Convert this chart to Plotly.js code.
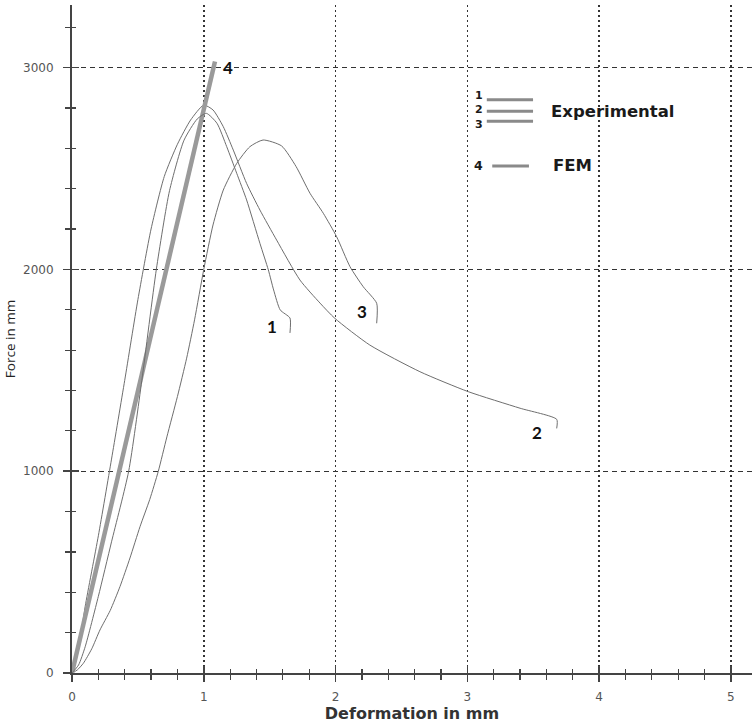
<!DOCTYPE html>
<html>
<head>
<meta charset="utf-8">
<script src="https://cdn.plot.ly/plotly-3.0.1.min.js"></script>
<style>html,body{margin:0;padding:0;background:#fff;}#chart{width:756px;height:725px;}</style>
</head>
<body>
<div id="chart"></div>
<script>
// ---- data ----
const femX = [0, 1.085];
const femY = [0, 3030];

const exp1X = [0, 0.05, 0.1, 0.2, 0.3, 0.43, 0.53, 0.64, 0.74, 0.85, 0.95, 1.02, 1.1, 1.174, 1.25, 1.325, 1.426, 1.49, 1.53, 1.58, 1.654, 1.654];
const exp1Y = [0, 40, 130, 380, 650, 1000, 1450, 2000, 2390, 2640, 2745, 2773, 2724, 2608, 2476, 2344, 2129, 1997, 1898, 1799, 1759, 1685];

const exp2X = [0, 0.05, 0.1, 0.2, 0.3, 0.4, 0.5, 0.6, 0.7, 0.8, 0.9, 1.0, 1.07, 1.148, 1.224, 1.325, 1.426, 1.553, 1.73, 1.882, 1.995, 2.26, 2.64, 3.007, 3.4, 3.678, 3.678];
const exp2Y = [0, 120, 330, 680, 1060, 1450, 1850, 2200, 2460, 2620, 2740, 2814, 2790, 2707, 2591, 2426, 2294, 2145, 1947, 1833, 1757, 1625, 1493, 1394, 1312, 1257, 1212];

const exp3X = [0, 0.04, 0.086, 0.15, 0.212, 0.29, 0.364, 0.44, 0.516, 0.59, 0.655, 0.72, 0.8, 0.87, 0.93, 1.0, 1.07, 1.148, 1.25, 1.35, 1.45, 1.59, 1.7, 1.806, 1.907, 2.008, 2.11, 2.21, 2.312, 2.312];
const exp3Y = [0, 15, 48, 120, 213, 310, 428, 570, 725, 860, 1000, 1170, 1370, 1560, 1750, 2000, 2220, 2393, 2525, 2608, 2641, 2612, 2510, 2377, 2278, 2162, 2013, 1914, 1832, 1733];

const curveLabels = ['1', '2', '3', '4'];
const curveLabelX = [1.517, 3.528, 2.2, 1.184];
const curveLabelY = [1719, 1194, 1789, 2998];

const xTickVals = [0, 1, 2, 3, 4, 5];
const yTickVals = [0, 1000, 2000, 3000];

// ---- styles ----
const thin = {color: '#6e6e6e', width: 1, shape: 'spline', smoothing: 0.6};
const axisCol = '#444';
const tickFont = {family: 'DejaVu Sans', size: 12, color: '#555'};

const traces = [
  {x: exp2X, y: exp2Y, mode: 'lines', line: thin, hoverinfo: 'skip', showlegend: false},
  {x: exp3X, y: exp3Y, mode: 'lines', line: thin, hoverinfo: 'skip', showlegend: false},
  {x: femX, y: femY, mode: 'lines', line: {color: '#9a9a9a', width: 4.5}, hoverinfo: 'skip', showlegend: false},
  {x: exp1X, y: exp1Y, mode: 'lines', line: thin, hoverinfo: 'skip', showlegend: false},
  // invisible carrier so the overlay axes (crossing ticks) get drawn
  {x: femX, y: femY, xaxis: 'x2', yaxis: 'y2', mode: 'lines', line: {width: 0}, opacity: 0, hoverinfo: 'skip', showlegend: false}
];

const xr = [0, 5.16];
const yr = [0, 3310];

const annotations = curveLabels.map((t, i) => ({
  x: curveLabelX[i], y: curveLabelY[i], xref: 'x', yref: 'y', text: t, showarrow: false,
  font: {family: 'Lato, Open Sans, sans-serif', size: 17, color: '#111', weight: 'bold'},
  xanchor: 'center', yanchor: 'middle'
}));

annotations.push({x: 0.5985, y: 0.843, xref: 'paper', yref: 'paper', text: '1<br>2<br>3',
  showarrow: false, font: {family: 'DejaVu Sans', size: 11, color: '#1a1a1a', weight: 'bold'},
  xanchor: 'center', yanchor: 'middle', borderpad: 0});
annotations.push({x: 0.5985, y: 0.759, xref: 'paper', yref: 'paper', text: '4', showarrow: false,
  font: {family: 'DejaVu Sans', size: 12.5, color: '#1a1a1a', weight: 'bold'}, xanchor: 'center', yanchor: 'middle'});
annotations.push({x: 0.701, y: 0.841, xref: 'paper', yref: 'paper', text: 'Experimental', showarrow: false,
  font: {family: 'DejaVu Sans', size: 16.5, color: '#1a1a1a', weight: 'bold'}, xanchor: 'left', yanchor: 'middle'});
annotations.push({x: 0.704, y: 0.759, xref: 'paper', yref: 'paper', text: 'FEM', showarrow: false,
  font: {family: 'DejaVu Sans', size: 16.5, color: '#1a1a1a', weight: 'bold'}, xanchor: 'left', yanchor: 'middle'});

const legLine = {color: '#8a8a8a', width: 3};
const shapes = [
  {type: 'line', xref: 'paper', yref: 'paper', x0: 0.610, x1: 0.678, y0: 0.858, y1: 0.858, line: legLine},
  {type: 'line', xref: 'paper', yref: 'paper', x0: 0.610, x1: 0.678, y0: 0.841, y1: 0.841, line: legLine},
  {type: 'line', xref: 'paper', yref: 'paper', x0: 0.610, x1: 0.678, y0: 0.826, y1: 0.826, line: legLine},
  {type: 'line', xref: 'paper', yref: 'paper', x0: 0.618, x1: 0.672, y0: 0.759, y1: 0.759, line: legLine}
];

const layout = {
  width: 756, height: 725,
  margin: {l: 72, r: 4, t: 5, b: 52},
  paper_bgcolor: '#fff', plot_bgcolor: '#fff',
  showlegend: false,
  xaxis: {
    range: xr, tickvals: xTickVals, ticktext: xTickVals.map(String),
    showline: true, linecolor: axisCol, linewidth: 2,
    ticks: 'outside', ticklen: 7, tickwidth: 1.5, tickcolor: axisCol,
    minor: {dtick: 0.2, tick0: 0, ticks: 'outside', ticklen: 5, tickwidth: 1.2, tickcolor: axisCol, showgrid: false},
    showgrid: true, gridcolor: '#333', gridwidth: 1.5, griddash: '2px,3px',
    zeroline: false, tickfont: tickFont, ticklabelstandoff: 5,
    title: {text: 'Deformation in mm', standoff: 4, font: {family: 'DejaVu Sans', size: 16, color: '#333', weight: 'bold'}}
  },
  yaxis: {
    range: yr, tickvals: yTickVals, ticktext: yTickVals.map(String),
    showline: true, linecolor: axisCol, linewidth: 2,
    ticks: 'outside', ticklen: 7, tickwidth: 1.5, tickcolor: axisCol,
    minor: {dtick: 200, tick0: 0, ticks: 'outside', ticklen: 5, tickwidth: 1.2, tickcolor: axisCol, showgrid: false},
    showgrid: true, gridcolor: '#333', gridwidth: 1, griddash: '5px,4px',
    zeroline: false, tickfont: tickFont, ticklabelstandoff: 7,
    title: {text: 'Force in mm', standoff: 4, font: {family: 'Open Sans, sans-serif', size: 13.5, color: '#222'}}
  },
  xaxis2: {
    range: xr, overlaying: 'x', anchor: 'y2', side: 'bottom', tickvals: xTickVals, showticklabels: false,
    ticks: 'inside', ticklen: 7, tickwidth: 1.5, tickcolor: axisCol,
    minor: {dtick: 0.2, tick0: 0, ticks: 'inside', ticklen: 4, tickwidth: 1.2, tickcolor: axisCol, showgrid: false},
    showgrid: false, zeroline: false, showline: false
  },
  yaxis2: {
    range: yr, overlaying: 'y', anchor: 'x2', side: 'left', tickvals: yTickVals, showticklabels: false,
    ticks: 'inside', ticklen: 7, tickwidth: 1.5, tickcolor: axisCol,
    minor: {dtick: 200, tick0: 0, ticks: 'inside', ticklen: 4, tickwidth: 1.2, tickcolor: axisCol, showgrid: false},
    showgrid: false, zeroline: false, showline: false
  },
  annotations: annotations,
  shapes: shapes
};

Plotly.newPlot('chart', traces, layout, {staticPlot: true, displayModeBar: false});
</script>
</body>
</html>
